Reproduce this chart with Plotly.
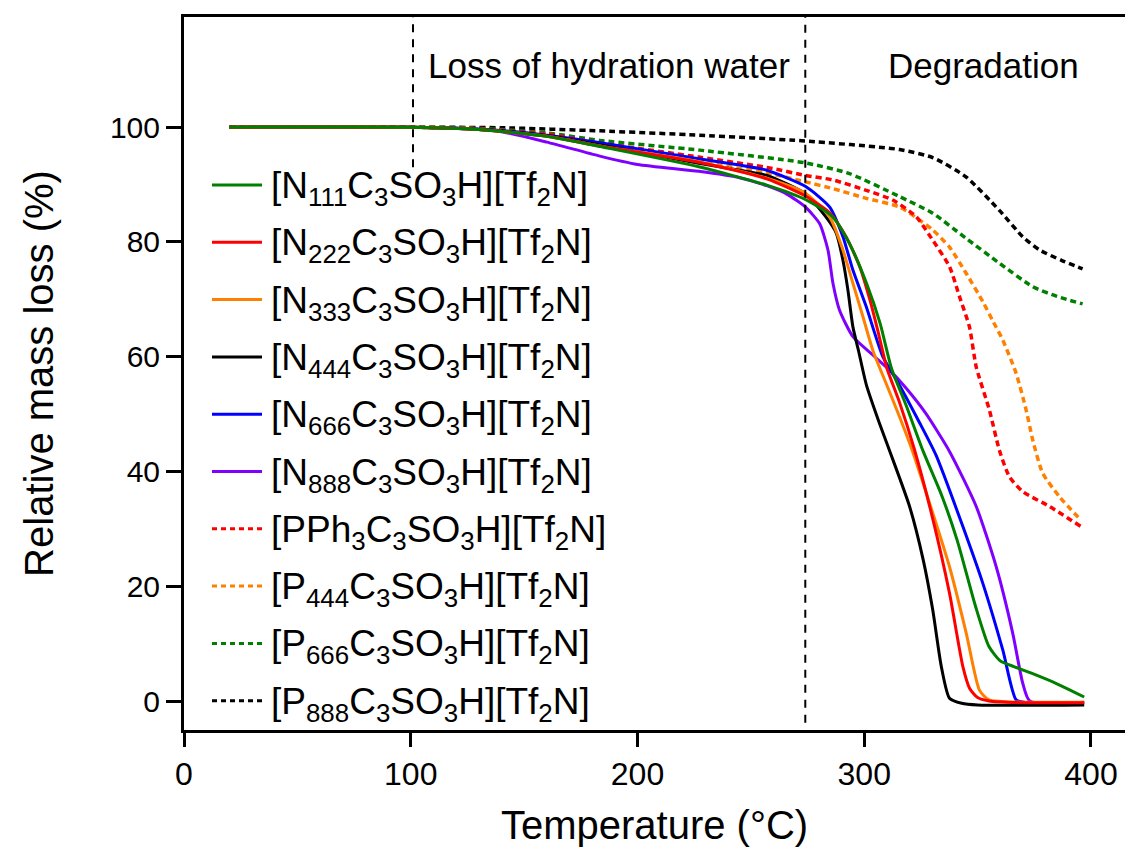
import plotly.graph_objects as go

# ---------------- data ----------------
T_N111 = [20, 100, 130, 160, 185, 227, 257, 274, 286, 293.5, 301, 307, 312, 318.5, 326, 334, 341, 349, 355, 360, 366, 374, 385, 397]
Y_N111 = [100, 100, 99.6, 98.4, 96.5, 93.1, 89.9, 87.4, 84.4, 79.7, 72.8, 65.8, 58.0, 51.5, 43.5, 36.0, 28.0, 16.6, 9.5, 7.0, 6.0, 4.8, 3.0, 0.7]

T_N222 = [20, 100, 130, 160, 185, 227, 257, 274, 285, 292, 298, 302.5, 306, 310, 315.6, 322, 330, 337.6, 343.5, 346.5, 350, 355, 370, 397]
Y_N222 = [100, 100, 99.6, 98.4, 96.6, 93.9, 91.0, 88.0, 85.0, 80.9, 75.7, 69.9, 64.5, 58.0, 52.0, 44.0, 32.1, 18.8, 6.0, 2.2, 0.6, 0.0, -0.3, -0.3]

T_N333 = [20, 100, 130, 160, 185, 227, 257, 274, 284.7, 290.6, 295, 299.4, 303.8, 309.7, 315.6, 320.6, 326, 337.6, 345, 350.8, 355, 370, 397]
Y_N333 = [100, 100, 99.6, 98.4, 96.6, 94.0, 91.1, 88.5, 84.4, 78.6, 72.8, 67.0, 61.1, 55.3, 49.5, 44.3, 37.9, 23.4, 11.8, 1.9, 0.2, -0.2, -0.2]

T_N444 = [20, 100, 130, 160, 185, 227, 245, 257, 274, 283, 287.7, 290.6, 292.8, 295, 297.5, 301, 306.7, 311.1, 320, 326, 330.2, 334, 337.6, 343, 350, 397]
Y_N444 = [100, 100, 99.6, 98.5, 96.8, 93.7, 92.5, 91.6, 88.4, 84.4, 81.5, 76.8, 71.6, 65.2, 61.0, 55.0, 48.4, 43.7, 33.9, 24.6, 15.9, 6.0, 0.5, -0.4, -0.7, -0.7]

T_N666 = [20, 100, 130, 160, 185, 227, 245, 257, 274, 284.7, 290.6, 295, 300.9, 308.2, 315.6, 324.4, 331.7, 343.5, 352.3, 361.1, 367, 372, 397]
Y_N666 = [100, 100, 99.7, 98.6, 97.2, 94.5, 93.4, 92.5, 89.7, 86.1, 80.9, 75.1, 68.7, 60.0, 55.0, 48.5, 42.8, 30.4, 20.5, 8.9, 0.2, -0.3, -0.3]

T_N888 = [20, 100, 120, 140, 160, 183, 200, 227, 245, 257, 266, 274, 280.3, 284, 286.2, 289.1, 295, 303.8, 311.1, 318.5, 327, 337.6, 349.4, 358.2, 365.5, 369.9, 373, 397]
Y_N888 = [100, 100, 99.8, 99.2, 97.4, 95.0, 93.5, 92.3, 91.2, 89.8, 88.3, 86.1, 83.2, 78.6, 72.8, 68.1, 63.5, 60.3, 57.7, 54.5, 50.2, 43.5, 33.9, 23.4, 11.8, 3.1, 0.0, -0.2]

T_PPh3 = [20, 100, 130, 160, 183, 227, 259.7, 273.7, 286.2, 300.9, 312.6, 322.9, 330.2, 337.6, 342, 346.4, 349.4, 355.2, 359.6, 364, 369.9, 381.7, 395.6]
Y_PPh3 = [100, 100, 99.7, 98.8, 97.3, 94.8, 92.8, 91.6, 90.8, 89.0, 87.3, 84.4, 80.3, 75.7, 70.5, 65.2, 58.2, 50.7, 43.7, 39.1, 36.5, 33.9, 30.4]

T_P444 = [20, 100, 130, 160, 183, 227, 259.7, 273.7, 286.2, 300.9, 315.6, 324.4, 330.2, 337.6, 345, 352.3, 357, 361.1, 367, 371.4, 374.3, 378.7, 386.1, 395.6]
Y_P444 = [100, 100, 99.7, 98.6, 97.0, 94.0, 91.8, 90.5, 89.3, 87.6, 86.1, 83.8, 82.1, 79.1, 74.5, 69.6, 66.0, 62.9, 57.1, 50.7, 45.5, 39.7, 35.6, 31.5]

T_P666 = [20, 100, 130, 160, 183.3, 227.4, 273.7, 293.5, 315.6, 330.2, 345, 359.6, 374.3, 385, 396.3]
Y_P666 = [100, 100, 99.8, 99.0, 97.7, 96.0, 93.8, 91.9, 87.9, 85.0, 80.6, 76.3, 72.2, 70.5, 69.2]

T_P888 = [20, 100, 140, 183.3, 227.4, 273.7, 315.6, 330.2, 345, 359.6, 369.9, 377.3, 387, 396.3]
Y_P888 = [100, 100, 99.9, 99.36, 98.6, 97.6, 96.1, 94.7, 91.3, 85.5, 80.9, 78.6, 76.8, 75.3]

NAMES = [
    "[N<sub>111</sub>C<sub>3</sub>SO<sub>3</sub>H][Tf<sub>2</sub>N]",
    "[N<sub>222</sub>C<sub>3</sub>SO<sub>3</sub>H][Tf<sub>2</sub>N]",
    "[N<sub>333</sub>C<sub>3</sub>SO<sub>3</sub>H][Tf<sub>2</sub>N]",
    "[N<sub>444</sub>C<sub>3</sub>SO<sub>3</sub>H][Tf<sub>2</sub>N]",
    "[N<sub>666</sub>C<sub>3</sub>SO<sub>3</sub>H][Tf<sub>2</sub>N]",
    "[N<sub>888</sub>C<sub>3</sub>SO<sub>3</sub>H][Tf<sub>2</sub>N]",
    "[PPh<sub>3</sub>C<sub>3</sub>SO<sub>3</sub>H][Tf<sub>2</sub>N]",
    "[P<sub>444</sub>C<sub>3</sub>SO<sub>3</sub>H][Tf<sub>2</sub>N]",
    "[P<sub>666</sub>C<sub>3</sub>SO<sub>3</sub>H][Tf<sub>2</sub>N]",
    "[P<sub>888</sub>C<sub>3</sub>SO<sub>3</sub>H][Tf<sub>2</sub>N]",
]
X_TICKS = [0, 100, 200, 300, 400]
Y_TICKS = [0, 20, 40, 60, 80, 100]
REGION_LINES_X = [101, 274]
REGION_LINES_YBOTTOM = [93, -3.8]
REGION_LABELS = ["Loss of hydration water", "Degradation"]
REGION_LABEL_X = [187.5, 352.5]
REGION_LABEL_Y = 110.8

# ---------------- styling ----------------
COLORS = ["#008000", "#FF0000", "#FF8000", "#000000", "#0000FF", "#8000FF",
          "#FF0000", "#FF8000", "#008000", "#000000"]
SOLID = [True] * 6 + [False] * 4
DOT = "6px,4px"
FONT = "Liberation Sans, Arial, sans-serif"

series = [(T_N111, Y_N111), (T_N222, Y_N222), (T_N333, Y_N333), (T_N444, Y_N444),
          (T_N666, Y_N666), (T_N888, Y_N888), (T_PPh3, Y_PPh3), (T_P444, Y_P444),
          (T_P666, Y_P666), (T_P888, Y_P888)]

OFF = 8  # page body margin
W, H = 1137 - OFF, 854 - OFF
# plot area in page pixels: x 184..1125, y 17..730
L, R, TOP, B = 184 - OFF, W - (1125 - OFF), 17 - OFF, H - (730 - OFF)
XR = [0, 415]
YR = [-5.05, 119.2]

fig = go.Figure()
order = list(range(len(series)))[::-1]
for i in order:
    t, y = series[i]
    fig.add_trace(go.Scatter(
        x=t, y=y, mode="lines", name=NAMES[i], showlegend=False,
        line=dict(color=COLORS[i], width=3 if SOLID[i] else 3.5,
                  dash="solid" if SOLID[i] else DOT,
                  shape="spline", smoothing=0.6),
        hoverinfo="skip"))

shapes = []
for xv, yb in zip(REGION_LINES_X, REGION_LINES_YBOTTOM):
    shapes.append(dict(type="line", xref="x", yref="y", x0=xv, x1=xv, y0=yb, y1=YR[1],
                       line=dict(color="black", width=2, dash="8px,7px")))

pw = W - L - R
ph = H - TOP - B
def px2paper_x(px):
    return (px - OFF - L) / pw
def px2paper_y(py):
    return (H - B - (py - OFF)) / ph

annotations = []
row0, step = 185, 57.3
for i, name in enumerate(NAMES):
    py = row0 + step * i
    shapes.append(dict(type="line", xref="paper", yref="paper",
                       x0=px2paper_x(212), x1=px2paper_x(262),
                       y0=px2paper_y(py), y1=px2paper_y(py),
                       line=dict(color=COLORS[i], width=3,
                                 dash="solid" if SOLID[i] else "5px,4px")))
    annotations.append(dict(xref="paper", yref="paper", x=px2paper_x(269), y=px2paper_y(py + 3),
                            text=name, showarrow=False, xanchor="left", yanchor="middle",
                            font=dict(family=FONT, size=37, color="black")))

for lab, xl in zip(REGION_LABELS, REGION_LABEL_X):
    annotations.append(dict(xref="x", yref="y", x=xl, y=REGION_LABEL_Y, text=lab,
                            showarrow=False, xanchor="center", yanchor="middle",
                            font=dict(family=FONT, size=35, color="black")))

fig.update_layout(
    width=W, height=H,
    margin=dict(l=L, r=R, t=TOP, b=B, autoexpand=False),
    paper_bgcolor="white", plot_bgcolor="white",
    shapes=shapes, annotations=annotations,
    xaxis=dict(range=XR, tickvals=X_TICKS, ticks="outside", ticklen=14, tickwidth=2.5,
               tickcolor="black", showline=True, linecolor="black", linewidth=3,
               mirror=True, showgrid=False, zeroline=False, automargin=False,
               tickfont=dict(family=FONT, size=32, color="black"),
               title=dict(text="Temperature (°C)", font=dict(family=FONT, size=40, color="black"),
                          standoff=20)),
    yaxis=dict(range=YR, tickvals=Y_TICKS, ticks="outside", ticklen=15, tickwidth=2.5,
               tickcolor="black", showline=True, linecolor="black", linewidth=3,
               showgrid=False, zeroline=False, automargin=False,
               tickfont=dict(family=FONT, size=30, color="black"),
               title=dict(text="Relative mass loss (%)", font=dict(family=FONT, size=40, color="black"),
                          standoff=44)),
)

fig.write_html("out.html")
